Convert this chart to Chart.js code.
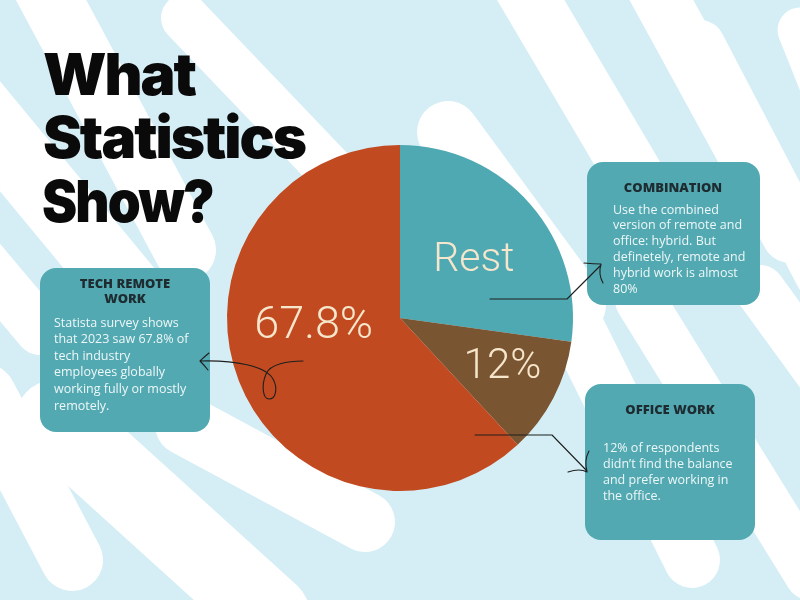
<!DOCTYPE html>
<html>
<head>
<meta charset="utf-8">
<script src="https://cdn.jsdelivr.net/npm/chart.js@4.4.0/dist/chart.umd.min.js"></script>
<style>
  html, body { margin: 0; padding: 0; background: #D5EEF5; }
  #wrap { width: 800px; height: 600px; }
</style>
</head>
<body>
<div id="wrap"><canvas id="myChart" width="800" height="600"></canvas></div>
<script>
const sliceNames = ['Rest', 'Office work', 'Tech remote work'];
const sliceValues = [27.2, 10.9, 61.9];
const sliceLabels = ['Rest', '12%', '67.8%'];
const sliceColors = ['#4FA9B3', '#7A5532', '#C24A21'];

const titleLines = ['What', 'Statistics', 'Show?'];

const remoteTitle = ['TECH REMOTE', 'WORK'];
const remoteText = ['Statista survey shows', 'that 2023 saw 67.8% of', 'tech industry', 'employees globally', 'working fully or mostly', 'remotely.'];
const comboTitle = ['COMBINATION'];
const comboText = ['Use the combined', 'version of remote and', 'office: hybrid. But', 'definetely, remote and', 'hybrid work is almost', '80%'];
const officeTitle = ['OFFICE WORK'];
const officeText = ['12% of respondents', 'didn\u2019t find the balance', 'and prefer working in', 'the office.'];

// where each label sits inside its wedge: share of the angle, share of the radius, font size
const labelSpots = [[0.52, 0.55, 41], [0.42, 0.65, 42], [0.58, 0.5, 45]];

// white brush strokes of the backdrop
const strokes = [
  [[35, -30], [185, 250], 62],
  [[-30, 100], [160, 330], 70],
  [[-40, 235], [40, 330], 50],
  [[185, 18], [335, 175], 48],
  [[-15, 395], [72, 560], 62],
  [[55, 420], [270, 615], 80],
  [[185, 425], [365, 522], 60],
  [[513, -30], [640, 185], 58],
  [[645, -30], [790, 235], 56],
  [[700, 45], [820, 275], 50],
  [[800, 30], [840, 130], 45],
  [[448, 132], [575, 305], 62],
  [[570, 315], [692, 560], 56],
  [[640, 300], [810, 575], 50],
  [[760, 290], [840, 400], 50]
];

function drawBackdrop(ctx) {
  ctx.save();
  ctx.fillStyle = '#D5EEF5';
  ctx.fillRect(0, 0, 800, 600);
  ctx.strokeStyle = '#FFFFFF';
  ctx.lineCap = 'round';
  strokes.forEach(s => {
    ctx.lineWidth = s[2];
    ctx.beginPath();
    ctx.moveTo(s[0][0], s[0][1]);
    ctx.lineTo(s[1][0], s[1][1]);
    ctx.stroke();
  });
  ctx.restore();
}

function fitText(ctx, text, x, y, width) {
  const w = ctx.measureText(text).width;
  ctx.save();
  ctx.translate(x, y);
  ctx.scale(width / w, 1);
  ctx.fillText(text, 0, 0);
  ctx.restore();
}

function drawTitle(ctx) {
  ctx.save();
  ctx.fillStyle = '#0A0A0A';
  ctx.font = '900 58px Inter';
  ctx.letterSpacing = '-2px';
  ctx.textBaseline = 'alphabetic';
  fitText(ctx, titleLines[0], 43, 95, 152);
  fitText(ctx, titleLines[1], 43, 158, 262);
  fitText(ctx, titleLines[2], 42, 222, 171);
  ctx.restore();
}

function roundBox(ctx, x, y, w, h, r) {
  ctx.beginPath();
  ctx.moveTo(x + r, y);
  ctx.arcTo(x + w, y, x + w, y + h, r);
  ctx.arcTo(x + w, y + h, x, y + h, r);
  ctx.arcTo(x, y + h, x, y, r);
  ctx.arcTo(x, y, x + w, y, r);
  ctx.closePath();
  ctx.fillStyle = '#52A9B2';
  ctx.fill();
}

function drawBox(ctx, box) {
  roundBox(ctx, box.x, box.y, box.w, box.h, 16);
  ctx.textBaseline = 'middle';
  ctx.fillStyle = '#1E2B30';
  ctx.font = '800 13px "Open Sans"';
  ctx.textAlign = 'center';
  box.title.forEach((t, i) => ctx.fillText(t, box.cx, box.ty + i * 15));
  ctx.fillStyle = '#EEF7F7';
  ctx.font = '12.5px "Open Sans"';
  ctx.textAlign = 'left';
  box.text.forEach((t, i) => ctx.fillText(t, box.tx, box.by + i * box.lh));
}

function drawArrows(ctx) {
  ctx.save();
  ctx.strokeStyle = '#1F1F1F';
  ctx.lineWidth = 1.1;
  ctx.lineCap = 'round';
  ctx.lineJoin = 'round';
  // looped arrow to the left box
  ctx.beginPath();
  ctx.moveTo(303, 361);
  ctx.bezierCurveTo(288, 361, 270, 364, 266, 374);
  ctx.bezierCurveTo(261, 386, 263, 399, 269, 399);
  ctx.bezierCurveTo(276, 399, 278, 388, 273, 379);
  ctx.bezierCurveTo(266, 366, 235, 360, 200, 361);
  ctx.moveTo(209, 353);
  ctx.quadraticCurveTo(203, 358, 200, 361);
  ctx.quadraticCurveTo(204, 365, 208, 370);
  ctx.stroke();
  // elbow arrow to the combination box
  ctx.beginPath();
  ctx.moveTo(490, 299);
  ctx.lineTo(567, 299);
  ctx.lineTo(601, 265);
  ctx.moveTo(584, 263);
  ctx.quadraticCurveTo(594, 264, 601, 264);
  ctx.quadraticCurveTo(598, 274, 603, 283);
  ctx.stroke();
  // elbow arrow to the office box
  ctx.beginPath();
  ctx.moveTo(475, 435);
  ctx.lineTo(552, 435);
  ctx.lineTo(587, 471);
  ctx.moveTo(568, 472);
  ctx.quadraticCurveTo(580, 468, 587, 472);
  ctx.quadraticCurveTo(584, 460, 589, 451);
  ctx.stroke();
  ctx.restore();
}

const backdropPlugin = {
  id: 'backdrop',
  beforeDraw(chart) {
    drawBackdrop(chart.ctx);
    drawTitle(chart.ctx);
  }
};

const slicePlugin = {
  id: 'sliceLabels',
  afterDatasetsDraw(chart) {
    const ctx = chart.ctx;
    const meta = chart.getDatasetMeta(0);
    ctx.save();
    ctx.fillStyle = '#F6E6CB';
    ctx.textAlign = 'center';
    ctx.textBaseline = 'middle';
    meta.data.forEach((arc, i) => {
      const a = arc.startAngle + (arc.endAngle - arc.startAngle) * labelSpots[i][0];
      const r = arc.outerRadius * labelSpots[i][1];
      ctx.font = '300 ' + labelSpots[i][2] + 'px Roboto';
      ctx.fillText(sliceLabels[i], arc.x + Math.cos(a) * r, arc.y + Math.sin(a) * r + 3);
    });
    ctx.restore();
  }
};

const notePlugin = {
  id: 'notes',
  afterDraw(chart) {
    const ctx = chart.ctx;
    ctx.save();
    drawBox(ctx, { x: 40, y: 268, w: 170, h: 164, cx: 125, ty: 284, title: remoteTitle, tx: 54, by: 323, lh: 16.6, text: remoteText });
    drawBox(ctx, { x: 587, y: 162, w: 173, h: 143, cx: 673, ty: 188, title: comboTitle, tx: 613, by: 210, lh: 15.8, text: comboText });
    drawBox(ctx, { x: 585, y: 384, w: 170, h: 156, cx: 670, ty: 410, title: officeTitle, tx: 603, by: 448, lh: 16.3, text: officeText });
    drawArrows(ctx);
    ctx.restore();
  }
};

var ctx = document.getElementById('myChart').getContext('2d');
const myChart = new Chart(ctx, {
  type: 'pie',
  data: {
    labels: sliceNames,
    datasets: [
      {
        data: sliceValues,
        backgroundColor: sliceColors,
        borderWidth: 0,
      },
    ],
  },
  options: {
    responsive: false,
    animation: false,
    layout: {
      padding: { left: 227, right: 227, top: 145, bottom: 109 },
    },
    plugins: {
      legend: { display: false },
      tooltip: { enabled: false },
    },
  },
  plugins: [backdropPlugin, slicePlugin, notePlugin],
});
</script>
</body>
</html>
